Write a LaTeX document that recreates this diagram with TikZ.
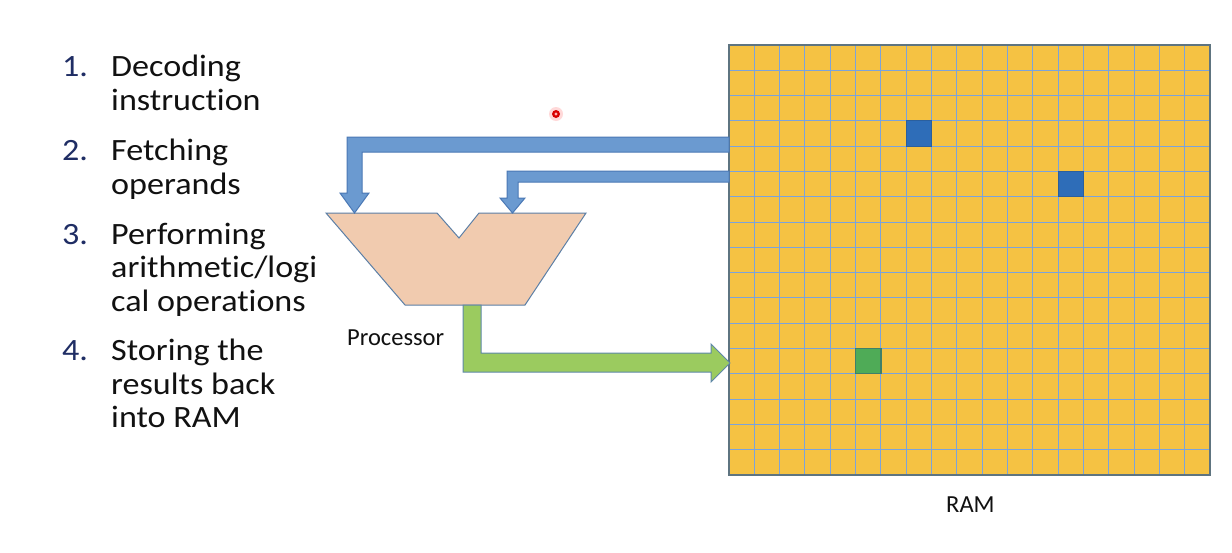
\documentclass[tikz,border=0pt]{standalone}
\usepackage{fontspec}
\setmainfont{Carlito}[RawFeature={-liga;-clig;-dlig}]
\newfontfamily\listfont{Carlito}[FakeStretch=1.1,RawFeature={-liga;-clig;-dlig}]
\definecolor{ramfill}{HTML}{F5C243}
\definecolor{gridline}{HTML}{7BA3DB}
\definecolor{ramborder}{HTML}{5E7480}
\definecolor{cellblue}{HTML}{2E6DB8}
\definecolor{cellblueedge}{HTML}{2A5F9E}
\definecolor{cellgreen}{HTML}{4FAB57}
\definecolor{cellgreenedge}{HTML}{3F7F6A}
\definecolor{busblue}{HTML}{6B9AD0}
\definecolor{busblueedge}{HTML}{4A78B5}
\definecolor{busgreen}{HTML}{9BCB5F}
\definecolor{busgreenedge}{HTML}{5F88A8}
\definecolor{procfill}{HTML}{F1CBAF}
\definecolor{procedge}{HTML}{5B7FA6}
\definecolor{numcol}{HTML}{1F2D64}
\definecolor{txtcol}{HTML}{111111}
\begin{document}
\begin{tikzpicture}[x=1pt,y=-1pt,
  numtxt/.style={anchor=base west,inner sep=0pt,text=numcol,font=\listfont\fontsize{31}{34}\selectfont},
  listtxt/.style={anchor=base west,inner sep=0pt,text=txtcol,font=\listfont\fontsize{31}{34}\selectfont},
  labeltxt/.style={anchor=base west,inner sep=0pt,text=txtcol,font=\fontsize{24.5}{28}\selectfont},
  bluebus/.style={fill=busblue,draw=busblueedge,line width=1pt,line join=miter},
  greenbus/.style={fill=busgreen,draw=busgreenedge,line width=1pt,line join=miter},
  procstyle/.style={fill=procfill,draw=procedge,line width=1pt,line join=miter},
  bluecell/.style={fill=cellblue,draw=cellblueedge,line width=1pt},
  greencell/.style={fill=cellgreen,draw=cellgreenedge,line width=1.2pt}
]
\useasboundingbox (0,0) rectangle (1232,552);
\fill[white] (0,0) rectangle (1232,552);

% ---- list ----
\node[numtxt] (n1) at (62,76.7) {1.};
\node[listtxt] (t1a) at (111,76.7) {Decoding};
\node[listtxt] (t1b) at (111,110.5) {instruction};
\node[numtxt] (n2) at (62,160.5) {2.};
\node[listtxt] (t2a) at (111,160.5) {Fetching};
\node[listtxt] (t2b) at (111,194) {operands};
\node[numtxt] (n3) at (62,244) {3.};
\node[listtxt] (t3a) at (111,244) {Performing};
\node[listtxt] (t3b) at (111,277.5) {arithmetic/logi};
\node[listtxt] (t3c) at (111,311) {cal operations};
\node[numtxt] (n4) at (62,360.7) {4.};
\node[listtxt] (t4a) at (111,360.7) {Storing the};
\node[listtxt] (t4b) at (111,394) {results back};
\node[listtxt] (t4c) at (111,427.5) {into RAM};

% ---- RAM grid ----
\coordinate (ramNW) at (729,45);
\coordinate (ramSE) at (1210,475);
\fill[ramfill] (ramNW) rectangle (ramSE);
\foreach \i in {1,...,18} {
  \draw[gridline,line width=1pt] ({729+\i*481/19},45) -- ({729+\i*481/19},475);
}
\foreach \j in {1,...,16} {
  \draw[gridline,line width=1pt] (729,{45+\j*430/17}) -- (1210,{45+\j*430/17});
}
\draw[bluecell] ({729+7*481/19},{45+3*430/17}) rectangle ({729+8*481/19},{45+4*430/17});
\draw[bluecell] ({729+13*481/19},{45+5*430/17}) rectangle ({729+14*481/19},{45+6*430/17});
\draw[greencell] ({729+5*481/19},{45+12*430/17}) rectangle ({729+6*481/19},{45+13*430/17});
\draw[ramborder,line width=1.3pt] (ramNW) rectangle (ramSE);
\node[labeltxt] (ramlabel) at (946,512.7) {RAM};

% ---- processor ----
\draw[procstyle] (326,213) -- (437,213) -- (459,238) -- (479,213) -- (586,213)
  -- (525,305) -- (405,305) -- cycle;
\node[labeltxt] (proclabel) at (347,345) {Processor};

% ---- buses ----
\draw[bluebus] (729,137) -- (347,137) -- (347,193) -- (340,193) -- (354.5,213)
  -- (369,193) -- (362,193) -- (362,152) -- (729,152) -- cycle;
\draw[bluebus] (729,171) -- (507,171) -- (507,198) -- (500,198) -- (512.5,213)
  -- (525,198) -- (518,198) -- (518,182) -- (729,182) -- cycle;
\draw[greenbus] (463,305) -- (463,372) -- (711,372) -- (711,382) -- (730,363)
  -- (711,344) -- (711,353) -- (481,353) -- (481,305) -- cycle;

% ---- pointer dot ----
\fill[red!15] (556,114) circle (7);
\fill[red!85!black] (556,114) circle (4);
\fill[red!30] (556,114) circle (1.6);
\end{tikzpicture}
\end{document}
